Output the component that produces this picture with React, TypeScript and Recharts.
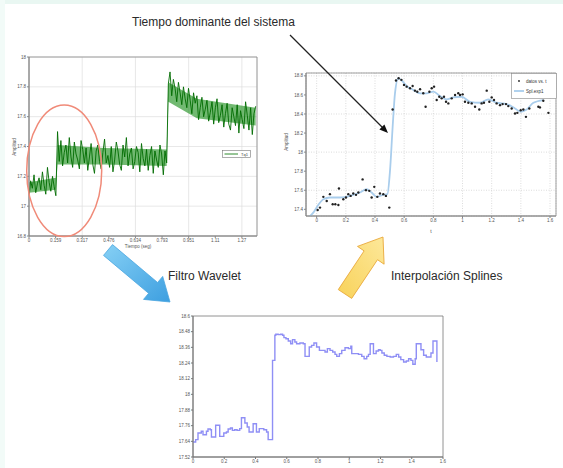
import React from 'react';
import {
  ComposedChart,
  LineChart,
  Line,
  Area,
  Scatter,
  XAxis,
  YAxis,
  CartesianGrid,
  ReferenceArea,
  Legend,
} from 'recharts';

// ---------- Chart 1: raw signal Tq1 ----------
const tq1Step = 0.01;
const tq1Values = [
  17.06, 17.17, 17.12, 17.21, 17.09, 17.15, 17.19, 17.11, 17.23, 17.14, 17.08, 17.26, 17.16, 17.1, 17.2, 17.13, 17.07,
  17.5, 17.3,
  17.44, 17.27, 17.36, 17.41, 17.29, 17.46, 17.33, 17.26, 17.43, 17.35, 17.31, 17.25, 17.44, 17.38, 17.29, 17.39,
  17.24, 17.33, 17.42, 17.28, 17.22, 17.37, 17.41, 17.3, 17.25, 17.36, 17.45, 17.29, 17.34, 17.26, 17.4, 17.23,
  17.31, 17.43, 17.37, 17.28, 17.24, 17.41, 17.33, 17.46, 17.27, 17.35, 17.39, 17.25, 17.3, 17.4, 17.36, 17.23,
  17.42, 17.32, 17.27, 17.38, 17.24, 17.34, 17.4, 17.22, 17.37, 17.31, 17.26, 17.41, 17.35, 17.21, 17.37, 17.29,
  17.82, 17.9, 17.74, 17.85, 17.79, 17.7, 17.83, 17.76, 17.68, 17.8, 17.72, 17.66, 17.79, 17.71, 17.62, 17.76,
  17.69, 17.74, 17.58, 17.66, 17.73, 17.6, 17.65, 17.71, 17.57, 17.63, 17.7, 17.55, 17.66, 17.72, 17.56, 17.61,
  17.68, 17.53, 17.62, 17.69, 17.55, 17.51, 17.66, 17.6, 17.54, 17.68, 17.49, 17.64, 17.58, 17.52, 17.7, 17.61,
  17.51, 17.66, 17.48, 17.62, 17.67,
];
const tq1BandT = [0, 0.16, 0.17, 0.45, 0.82, 0.83, 1.0, 1.35];
const tq1BandLo = [17.09, 17.11, 17.28, 17.28, 17.27, 17.7, 17.59, 17.54];
const tq1BandHi = [17.16, 17.19, 17.41, 17.39, 17.38, 17.83, 17.72, 17.66];
const tq1XTicks = [0, 0.1585, 0.317, 0.4755, 0.634, 0.7925, 0.951, 1.1095, 1.268];
const tq1XLabels = ['0', '0.159', '0.317', '0.476', '0.634', '0.793', '0.951', '1.11', '1.27'];
const tq1YTicks = [16.8, 17, 17.2, 17.4, 17.6, 17.8, 18];

// ---------- Chart 2: spline interpolation ----------
const datosT = [
  0.007, 0.023, 0.046, 0.069, 0.091, 0.11, 0.128, 0.149, 0.153, 0.183, 0.201, 0.217, 0.233, 0.251, 0.27, 0.286,
  0.315, 0.338, 0.361, 0.377, 0.395, 0.416, 0.434, 0.457, 0.475, 0.498, 0.521, 0.544, 0.562, 0.581, 0.599, 0.617,
  0.64, 0.658, 0.674, 0.69, 0.709, 0.731, 0.747, 0.773, 0.789, 0.805, 0.823, 0.841, 0.857, 0.873, 0.887, 0.903,
  0.926, 0.949, 0.971, 0.983, 1.001, 1.017, 1.04, 1.063, 1.086, 1.115, 1.131, 1.147, 1.166, 1.184, 1.2, 1.216,
  1.234, 1.257, 1.275, 1.298, 1.314, 1.337, 1.36, 1.376, 1.399, 1.417, 1.435, 1.458, 1.52, 1.531, 1.554, 1.589,
];
const datosV = [
  17.393, 17.418, 17.531, 17.488, 17.559, 17.453, 17.453, 17.446, 17.619, 17.506, 17.524, 17.559, 17.541, 17.566,
  17.552, 17.576, 17.714, 17.601, 17.594, 17.524, 17.636, 17.531, 17.566, 17.559, 17.541, 17.418, 18.447, 18.751,
  18.775, 18.758, 18.705, 18.687, 18.67, 18.694, 18.645, 18.634, 18.659, 18.617, 18.476, 18.634, 18.67, 18.687,
  18.546, 18.581, 18.564, 18.581, 18.528, 18.511, 18.564, 18.599, 18.617, 18.599, 18.606, 18.528, 18.518, 18.511,
  18.476, 18.447, 18.511, 18.518, 18.645, 18.528, 18.574, 18.546, 18.511, 18.493, 18.504, 18.504, 18.483, 18.458,
  18.405, 18.412, 18.44, 18.447, 18.37, 18.458, 18.476, 18.469, 18.539, 18.412,
];
const splineT = [
  -0.057, -0.023, 0.011, 0.046, 0.091, 0.16, 0.229, 0.297, 0.343, 0.377, 0.411, 0.457, 0.485, 0.503, 0.521, 0.537,
  0.56, 0.583, 0.617, 0.663, 0.709, 0.754, 0.8, 0.846, 0.891, 0.937, 0.994, 1.051, 1.12, 1.177, 1.234, 1.303, 1.36,
  1.399, 1.44, 1.486, 1.554,
];
const splineV = [
  17.312, 17.365, 17.446, 17.506, 17.524, 17.524, 17.541, 17.576, 17.612, 17.576, 17.531, 17.552, 17.559, 17.806,
  18.264, 18.617, 18.775, 18.751, 18.694, 18.652, 18.617, 18.617, 18.634, 18.588, 18.553, 18.574, 18.581, 18.528,
  18.518, 18.553, 18.518, 18.504, 18.458, 18.423, 18.447, 18.518, 18.546,
];
const splineXTicks = [0, 0.2, 0.4, 0.6, 0.8, 1, 1.2, 1.4, 1.6];
const splineYTicks = [17.4, 17.6, 17.8, 18, 18.2, 18.4, 18.6, 18.8];
const splineLegendLabels = ['datos vs. t', 'Spl.exp1'];

// ---------- Chart 3: wavelet filtered ----------
const waveletT = [
  0, 0.017, 0.032, 0.053, 0.064, 0.086, 0.096, 0.111, 0.118, 0.139, 0.145, 0.167, 0.171, 0.188, 0.197, 0.214, 0.225,
  0.24, 0.252, 0.267, 0.282, 0.299, 0.31, 0.325, 0.332, 0.347, 0.359, 0.374, 0.385, 0.402, 0.406, 0.424, 0.439,
  0.453, 0.471, 0.481, 0.496, 0.509, 0.524, 0.53, 0.545, 0.56, 0.573, 0.582, 0.595, 0.61, 0.625, 0.637, 0.652,
  0.663, 0.684, 0.706, 0.717, 0.738, 0.744, 0.759, 0.774, 0.791, 0.809, 0.834, 0.845, 0.86, 0.877, 0.894, 0.909,
  0.92, 0.937, 0.952, 0.973, 0.995, 1.01, 1.016, 1.037, 1.059, 1.08, 1.095, 1.112, 1.123, 1.134, 1.151, 1.155,
  1.172, 1.187, 1.198, 1.209, 1.224, 1.241, 1.262, 1.283, 1.301, 1.316, 1.33, 1.348, 1.365, 1.38, 1.395, 1.407,
  1.422, 1.429, 1.45, 1.459, 1.476, 1.493, 1.508, 1.523, 1.536, 1.557, 1.561,
];
const waveletV = [
  17.635, 17.653, 17.704, 17.717, 17.691, 17.717, 17.735, 17.729, 17.673, 17.673, 17.763, 17.763, 17.678, 17.678,
  17.704, 17.712, 17.735, 17.742, 17.724, 17.729, 17.724, 17.737, 17.821, 17.821, 17.78, 17.75, 17.712, 17.712,
  17.775, 17.775, 17.712, 17.737, 17.737, 17.729, 17.712, 17.653, 17.653, 18.26, 18.452, 18.46, 18.457, 18.46,
  18.452, 18.434, 18.426, 18.409, 18.388, 18.419, 18.401, 18.388, 18.393, 18.388, 18.291, 18.291, 18.363, 18.375,
  18.393, 18.363, 18.337, 18.337, 18.324, 18.35, 18.337, 18.324, 18.306, 18.291, 18.312, 18.337, 18.357, 18.35,
  18.368, 18.312, 18.312, 18.306, 18.291, 18.273, 18.291, 18.306, 18.388, 18.388, 18.312, 18.332, 18.342, 18.337,
  18.317, 18.299, 18.291, 18.286, 18.291, 18.306, 18.286, 18.266, 18.248, 18.255, 18.273, 18.26, 18.23, 18.273,
  18.388, 18.388, 18.342, 18.299, 18.286, 18.286, 18.317, 18.409, 18.409, 18.248,
];
const waveletXTicks = [0, 0.2, 0.4, 0.6, 0.8, 1, 1.2, 1.4, 1.6];
const waveletYTicks = [17.52, 17.64, 17.76, 17.88, 18, 18.12, 18.24, 18.36, 18.48, 18.6];

// ---------- Annotation texts ----------
const titleText = 'Tiempo dominante del sistema';
const waveletText = 'Filtro Wavelet';
const splineText = 'Interpolación Splines';
const axisTitles = { tq1X: 'Tiempo (seg)', tq1Y: 'Amplitud', splX: 't', splY: 'Amplitud' };

// tables built from arrays
const tq1Data = tq1Values.map((v, i) => ({ t: +(i * tq1Step).toFixed(2), v }));
const tq1Band = tq1BandT.map((t, i) => ({ t, band: [tq1BandLo[i], tq1BandHi[i]] }));
const datosData = datosT.map((t, i) => ({ t, v: datosV[i] }));
const splineData = splineT.map((t, i) => ({ t, v: splineV[i] }));
const waveletData = waveletT.map((t, i) => ({ t, v: waveletV[i] }));

const FONT = 'Liberation Sans, Arial, Helvetica, sans-serif';
const tickStyle = { fontSize: 4.5, fill: '#555', fontFamily: FONT };

const Tq1Legend = () => (
  <svg width={29} height={8} style={{ display: 'block' }}>
    <rect x={0.5} y={0.5} width={28} height={7} fill="#fff" stroke="#777" strokeWidth={0.6} />
    <line x1={2.5} y1={4} x2={16} y2={4} stroke="#2e8b2e" strokeWidth={1} />
    <text x={19} y={5.6} fontSize={4} fill="#444" fontFamily={FONT}>Tq1</text>
  </svg>
);

const SplineLegend = () => (
  <svg width={46} height={26} style={{ display: 'block' }}>
    <rect x={0.5} y={0.5} width={45} height={25} fill="#fff" stroke="#888" strokeWidth={0.6} />
    <circle cx={8} cy={8} r={0.9} fill="#222" />
    <text x={15} y={9.6} fontSize={4.5} fill="#333" fontFamily={FONT}>{splineLegendLabels[0]}</text>
    <line x1={3} y1={18} x2={13} y2={18} stroke="#a9cdec" strokeWidth={1.8} />
    <text x={15} y={19.6} fontSize={4.5} fill="#333" fontFamily={FONT}>{splineLegendLabels[1]}</text>
  </svg>
);

function Tq1Chart() {
  return (
    <ComposedChart width={270} height={215} margin={{ top: 17, right: 13, bottom: 0, left: 10 }}>
      <CartesianGrid stroke="#dedede" strokeWidth={0.7} />
      <XAxis
        type="number"
        dataKey="t"
        domain={[0, 1.358]}
        ticks={tq1XTicks}
        tickFormatter={(v: number) => tq1XLabels[tq1XTicks.indexOf(v)] ?? ''}
        tick={tickStyle}
        tickSize={2}
        tickMargin={1}
        height={19}
        stroke="#888"
        allowDataOverflow
      />
      <YAxis
        type="number"
        domain={[16.8, 18]}
        ticks={tq1YTicks}
        tick={tickStyle}
        tickSize={2}
        tickMargin={1}
        width={19}
        stroke="#888"
        allowDataOverflow
      />
      <Area
        data={tq1Band}
        dataKey="band"
        type="linear"
        stroke="none"
        fill="#138a13"
        fillOpacity={0.6}
        isAnimationActive={false}
      />
      <Line
        data={tq1Data}
        dataKey="v"
        type="linear"
        stroke="#006b00"
        strokeWidth={0.9}
        dot={false}
        isAnimationActive={false}
      />
      <ReferenceArea x1={0} x2={1.358} y1={16.8} y2={18} fill="none" fillOpacity={0} stroke="#888" strokeWidth={0.8} />
      <Legend
        layout="horizontal"
        verticalAlign="middle"
        content={() => <Tq1Legend />}
        wrapperStyle={{ position: 'absolute', left: 222, top: 110, width: 29, height: 8 }}
      />
    </ComposedChart>
  );
}

function SplineChart() {
  return (
    <ComposedChart width={285} height={185} margin={{ top: 13, right: 7, bottom: 0, left: 10 }}>
      <CartesianGrid stroke="#c4c4c4" strokeDasharray="1 1.5" strokeWidth={0.6} />
      <XAxis
        type="number"
        dataKey="t"
        domain={[-0.073, 1.641]}
        ticks={splineXTicks}
        tick={tickStyle}
        tickSize={2}
        tickMargin={1}
        height={29}
        stroke="#888"
        allowDataOverflow
      />
      <YAxis
        type="number"
        domain={[17.33, 18.83]}
        ticks={splineYTicks}
        tick={tickStyle}
        tickSize={2}
        tickMargin={1}
        width={18}
        stroke="#888"
        allowDataOverflow
      />
      <Line
        data={splineData}
        dataKey="v"
        type="monotone"
        stroke="#a9cdec"
        strokeWidth={1.8}
        dot={false}
        isAnimationActive={false}
      />
      <Scatter
        data={datosData}
        dataKey="v"
        fill="#222"
        isAnimationActive={false}
        shape={(p: any) => <circle cx={p.cx} cy={p.cy} r={1.2} fill="#222" />}
      />
      <ReferenceArea x1={-0.073} x2={1.641} y1={17.33} y2={18.83} fill="none" fillOpacity={0} stroke="#888" strokeWidth={0.8} />
      <Legend
        layout="horizontal"
        verticalAlign="middle"
        content={() => <SplineLegend />}
        wrapperStyle={{ position: 'absolute', left: 233, top: 13, width: 46, height: 26 }}
      />
    </ComposedChart>
  );
}

function WaveletChart() {
  return (
    <LineChart width={290} height={168} data={waveletData} margin={{ top: 16, right: 12, bottom: 0, left: 10 }}>
      <XAxis
        type="number"
        dataKey="t"
        domain={[0, 1.6]}
        ticks={waveletXTicks}
        tick={tickStyle}
        tickSize={2}
        tickMargin={1}
        height={11}
        stroke="#777"
        allowDataOverflow
      />
      <YAxis
        type="number"
        domain={[17.52, 18.6]}
        ticks={waveletYTicks}
        tick={tickStyle}
        tickSize={2}
        tickMargin={1}
        width={18}
        stroke="#777"
        allowDataOverflow
      />
      <Line
        dataKey="v"
        type="stepAfter"
        stroke="#8f8ff5"
        strokeWidth={1.4}
        dot={false}
        isAnimationActive={false}
      />
      <ReferenceArea x1={0} x2={1.6} y1={17.52} y2={18.6} fill="none" fillOpacity={0} stroke="#777" strokeWidth={0.8} />
    </LineChart>
  );
}

export default function App() {
  return (
    <div
      style={{
        position: 'absolute',
        left: 0,
        top: 0,
        width: 563,
        height: 468,
        background: '#fff',
        overflow: 'hidden',
        fontFamily: FONT,
      }}
    >
      <div style={{ position: 'absolute', left: 0, top: 0, width: 563, height: 4, background: '#e9f7f2' }} />
      <div style={{ position: 'absolute', left: 0, top: 0, width: 5, height: 468, background: '#f2fbf8' }} />
      <div style={{ position: 'absolute', left: 0, top: 40 }}>
        <Tq1Chart />
      </div>
      <div style={{ position: 'absolute', left: 278, top: 60 }}>
        <SplineChart />
      </div>
      <div style={{ position: 'absolute', left: 165, top: 300 }}>
        <WaveletChart />
      </div>
      <svg
        width={563}
        height={468}
        style={{ position: 'absolute', left: 0, top: 0, pointerEvents: 'none' }}
      >
        <defs>
          <linearGradient id="blueArrow" x1="0" y1="0" x2="1" y2="1">
            <stop offset="0" stopColor="#86d0f5" />
            <stop offset="1" stopColor="#3d9fe0" />
          </linearGradient>
          <linearGradient id="yellowArrow" x1="0" y1="1" x2="1" y2="0">
            <stop offset="0" stopColor="#f8d25a" />
            <stop offset="1" stopColor="#fde89a" />
          </linearGradient>
        </defs>
        {/* axis titles */}
        <text x={16} y={147} fontSize={4.5} fill="#555" textAnchor="middle" transform="rotate(-90 16 147)">
          {axisTitles.tq1Y}
        </text>
        <text x={138} y={248} fontSize={4.5} fill="#555" textAnchor="middle">
          {axisTitles.tq1X}
        </text>
        <text x={288} y={142} fontSize={4.5} fill="#555" textAnchor="middle" transform="rotate(-90 288 142)">
          {axisTitles.splY}
        </text>
        <text x={431} y={233} fontSize={5} fill="#555" textAnchor="middle">
          {axisTitles.splX}
        </text>
        {/* red ellipse */}
        <ellipse cx={64.2} cy={170.8} rx={37.5} ry={65.8} fill="none" stroke="#f08a78" strokeWidth={1.5} />
        {/* black arrow */}
        <line x1={290} y1={35} x2={382.5} y2={127.5} stroke="#222" strokeWidth={1.3} />
        <polygon points="388,133 379.4,129.4 384.4,124.4" fill="#111" />
        {/* blue arrow */}
        <polygon
          points="112.5,244.6 157.6,282.5 162.7,276.4 170,302 143.5,299.4 148.6,293.3 103.5,255.4"
          fill="url(#blueArrow)"
          stroke="#4aa6e0"
          strokeWidth={0.8}
          strokeLinejoin="round"
        />
        {/* yellow arrow */}
        <polygon
          points="351.7,298.4 377.5,259.7 384.1,264.2 383,237 357.5,246.4 364.1,250.9 338.3,289.6"
          fill="url(#yellowArrow)"
          stroke="#e9a83a"
          strokeWidth={0.9}
          strokeLinejoin="round"
        />
        {/* texts */}
        <text x={132} y={26} fontSize={12} fill="#2a2a2a" fontFamily={FONT}>
          {titleText}
        </text>
        <text x={168} y={280} fontSize={12} fill="#2a2a2a" fontFamily={FONT}>
          {waveletText}
        </text>
        <text x={391} y={280} fontSize={12} fill="#2a2a2a" fontFamily={FONT}>
          {splineText}
        </text>
      </svg>
    </div>
  );
}
